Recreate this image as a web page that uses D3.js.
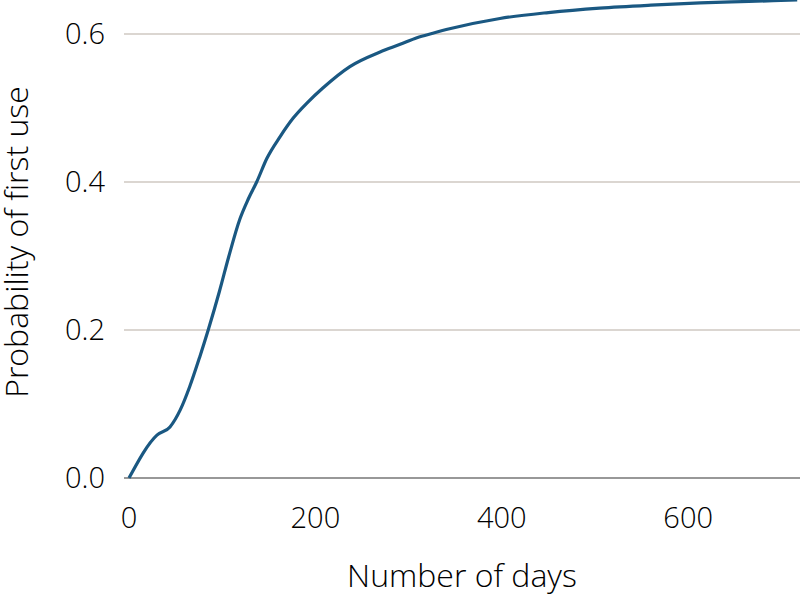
<!DOCTYPE html>
<html>
<head>
<meta charset="utf-8">
<script src="https://cdn.jsdelivr.net/npm/d3@7"></script>
<style>
  body { margin: 0; background: #fff; }
  text { font-family: 'Open Sans', sans-serif; font-weight: 300; fill: #000; }
</style>
</head>
<body>
<svg id="chart" width="800" height="595"></svg>
<script>
// days since start and the cumulative probability
const days = [0, 30, 44, 55, 65, 76, 85, 97, 107, 119, 128, 137, 148, 162, 176, 192,
              208, 237, 270, 291, 309, 326, 344, 398, 450, 505, 560, 613, 665, 717];
const prob = [0, 0.058, 0.069, 0.092, 0.123, 0.164, 0.2, 0.252, 0.299, 0.35, 0.377, 0.4,
              0.432, 0.461, 0.486, 0.508, 0.527, 0.556, 0.576, 0.586, 0.595, 0.601, 0.607,
              0.621, 0.629, 0.635, 0.639, 0.642, 0.644, 0.646];
const xTicks = [0, 200, 400, 600];
const yTicks = [0, 0.2, 0.4, 0.6];

const svg = d3.select('#chart');

var xScale = d3.scaleLinear([0, 720], [129, 800]),
    yScale = d3.scaleLinear([0, 0.6], [478, 34]);
var left = 124, right = 800;

var data = days.map(function(d, i) { return { x: d, y: prob[i] }; });

// gridlines
svg.append('g')
    .selectAll('line')
    .data(yTicks.filter(function(d) { return d > 0; }))
    .enter()
    .append('line')
    .attr('x1', left).attr('x2', right)
    .attr('y1', yScale).attr('y2', yScale)
    .attr('stroke', '#cfc8c2')
    .attr('stroke-width', 1.3);

// baseline
svg.append('line')
    .attr('x1', left).attr('x2', right)
    .attr('y1', yScale(0)).attr('y2', yScale(0))
    .attr('stroke', '#767676')
    .attr('stroke-width', 1.5);

// y tick labels
svg.append('g')
    .selectAll('text')
    .data(yTicks)
    .enter()
    .append('text')
    .attr('x', 105)
    .attr('y', yScale)
    .attr('dy', '0.35em')
    .attr('text-anchor', 'end')
    .style('font-size', '29px')
    .text(d3.format('.1f'));

// x tick labels
svg.append('g')
    .selectAll('text')
    .data(xTicks)
    .enter()
    .append('text')
    .attr('x', xScale)
    .attr('y', 528)
    .attr('text-anchor', 'middle')
    .style('font-size', '29px')
    .text(function(d) { return d; });

svg.append('text')
    .attr('x', 462)
    .attr('y', 587)
    .attr('text-anchor', 'middle')
    .style('font-size', '32px')
    .text('Number of days');

svg.append('text')
    .attr('transform', 'translate(28,242) rotate(-90)')
    .attr('text-anchor', 'middle')
    .style('font-size', '32px')
    .text('Probability of first use');

var line = d3.line()
    .x(function(d) { return xScale(d.x); })
    .y(function(d) { return yScale(d.y); })
    .curve(d3.curveMonotoneX);

svg.append('path')
    .datum(data)
    .attr('d', line)
    .attr('fill', 'none')
    .attr('stroke', '#1a5882')
    .attr('stroke-width', 3.2);
</script>
</body>
</html>
